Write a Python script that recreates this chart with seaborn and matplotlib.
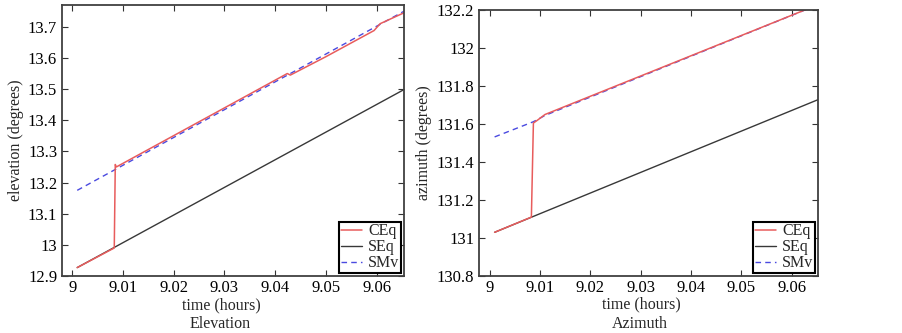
import matplotlib
matplotlib.use('Agg')

import numpy as np
import seaborn as sns
import matplotlib.pyplot as plt
from matplotlib.ticker import FuncFormatter

# elevation panel
el_t_ceq = [9.001, 9.0083, 9.0085, 9.0087, 9.015, 9.025, 9.0424, 9.043, 9.05, 9.0595, 9.0607, 9.0654]
el_ceq = [12.927, 12.99, 13.258, 13.25, 13.306, 13.395, 13.55, 13.545, 13.604, 13.688, 13.71, 13.745]
el_t_seq = [9.001, 9.0654]
el_seq = [12.927, 13.4985]
el_t_smv = [9.001, 9.0654]
el_smv = [13.175, 13.75]

# azimuth panel
az_t_ceq = [9.001, 9.0083, 9.0087, 9.0095, 9.011, 9.0652]
az_ceq = [131.03, 131.11, 131.605, 131.62, 131.65, 132.228]
az_t_seq = [9.001, 9.0652]
az_seq = [131.03, 131.728]
az_t_smv = [9.001, 9.0087, 9.011, 9.0652]
az_smv = [131.532, 131.612, 131.645, 132.228]

x_ticks = [9, 9.01, 9.02, 9.03, 9.04, 9.05, 9.06]
el_ticks = [12.9, 13.0, 13.1, 13.2, 13.3, 13.4, 13.5, 13.6, 13.7]
az_ticks = [130.8, 131.0, 131.2, 131.4, 131.6, 131.8, 132.0, 132.2]

sns.set_style("ticks")
plt.rcParams['font.family'] = ['Liberation Serif', 'DejaVu Serif']
plt.rcParams['font.size'] = 12
plt.rcParams['xtick.direction'] = 'in'
plt.rcParams['ytick.direction'] = 'in'
plt.rcParams['xtick.top'] = True
plt.rcParams['ytick.right'] = True
plt.rcParams['xtick.major.size'] = 4
plt.rcParams['ytick.major.size'] = 4
plt.rcParams['xtick.color'] = '#333333'
plt.rcParams['ytick.color'] = '#333333'
plt.rcParams['xtick.labelcolor'] = 'black'
plt.rcParams['ytick.labelcolor'] = 'black'

red = '#e85c5c'
dark = '#383838'
blue = '#4a4ae0'

fmt = FuncFormatter(lambda v, p: '%g' % round(v, 3))

W, H = 902, 333
fig = plt.figure(figsize=(W / 100, H / 100), dpi=100)
ax1 = fig.add_axes([62 / W, 57 / H, 342 / W, 271 / H])
ax2 = fig.add_axes([479 / W, 57 / H, 339 / W, 266 / H])

panels = [
	(ax1, el_t_ceq, el_ceq, el_t_seq, el_seq, el_t_smv, el_smv, el_ticks,
	 (12.9, 13.77), (8.998, 9.0654), 'elevation (degrees)', 0.465, -0.108),
	(ax2, az_t_ceq, az_ceq, az_t_seq, az_seq, az_t_smv, az_smv, az_ticks,
	 (130.8, 132.2), (8.9979, 9.0652), 'azimuth (degrees)', 0.478, -0.106),
]

for ax, tc, c, ts, s, tm, m, yt, ylim, xlim, ylab, lx, ly in panels:
	sns.lineplot(x=ts, y=s, ax=ax, color=dark, lw=1.0, sort=False, estimator=None, label='SEq')
	sns.lineplot(x=tm, y=m, ax=ax, color=blue, lw=1.0, sort=False, estimator=None, label='SMv')
	sns.lineplot(x=tc, y=c, ax=ax, color=red, lw=1.1, sort=False, estimator=None, label='CEq')
	ax.lines[1].set_dashes([4, 3])
	ax.set_xlim(*xlim)
	ax.set_ylim(*ylim)
	ax.set_xticks(x_ticks)
	ax.set_yticks(yt)
	ax.xaxis.set_major_formatter(fmt)
	ax.yaxis.set_major_formatter(fmt)
	ax.tick_params(labelsize=12)
	ax.tick_params(axis='x', pad=3)
	for sp in ax.spines.values():
		sp.set_color('#404040')
		sp.set_linewidth(1.3)
	ax.set_ylabel(ylab, fontsize=11.5, labelpad=3)
	ax.set_xlabel('time (hours)', fontsize=11.5, va='center')
	ax.xaxis.set_label_coords(lx, ly)
	handles, labels = ax.get_legend_handles_labels()
	order = [labels.index('CEq'), labels.index('SEq'), labels.index('SMv')]
	leg = ax.legend([handles[i] for i in order], [labels[i] for i in order],
		loc='lower right', fontsize=11.5, handlelength=1.3, handletextpad=0.4,
		labelspacing=0.0, borderpad=0.1, borderaxespad=0.2,
		fancybox=False, framealpha=1, edgecolor='black')
	leg.get_frame().set_linewidth(1.5)

fig.text(220 / W, 1 - 324 / H, 'Elevation', ha='center', va='center', fontsize=11.5)
fig.text(640 / W, 1 - 324 / H, 'Azimuth', ha='center', va='center', fontsize=11.5)

plt.savefig('out.png', dpi=100)
